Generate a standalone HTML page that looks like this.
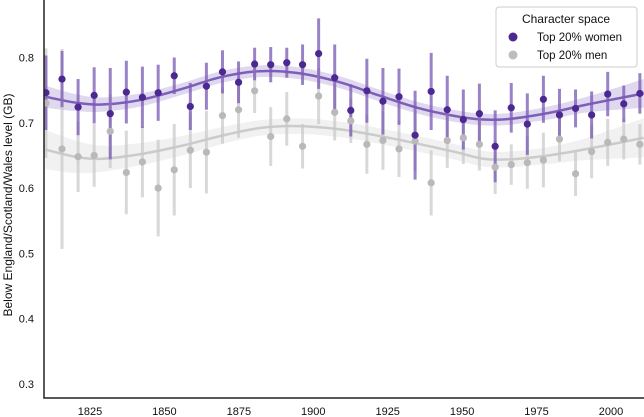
<!DOCTYPE html>
<html><head><meta charset="utf-8"><style>
html,body{margin:0;padding:0;background:#fff;width:644px;height:417px;overflow:hidden}
svg text{font-family:"Liberation Sans",Arial,sans-serif}
</style></head><body>
<svg id="chart" width="644" height="417" viewBox="0 0 644 417" xmlns="http://www.w3.org/2000/svg">
<defs><clipPath id="plotclip"><rect x="44" y="0" width="600" height="398"/></clipPath></defs>
<g id="bands" clip-path="url(#plotclip)"></g>
<g id="bars" clip-path="url(#plotclip)"></g>
<g id="dots" clip-path="url(#plotclip)"></g>
<g id="axes"></g>
<text transform="translate(12,205) rotate(-90)" text-anchor="middle" font-size="12" fill="#111">Below England/Scotland/Wales level (GB)</text>
<g>
<rect x="496" y="7" width="141" height="60" rx="3" fill="#fff" fill-opacity="0.9" stroke="#ccc"/>
<text x="566" y="23" text-anchor="middle" font-size="12" fill="#111">Character space</text>
<circle cx="513" cy="37" r="4.5" fill="#4b2990"/>
<text x="537" y="41" font-size="11.5" fill="#111">Top 20% women</text>
<circle cx="513" cy="55" r="4.5" fill="#bdbdbd"/>
<text x="537" y="59" font-size="11.5" fill="#111">Top 20% men</text>
</g>
</svg>
<script>
const years=[1810.2,1815.6,1821.0,1826.4,1831.8,1837.2,1842.6,1847.9,1853.3,1858.7,1864.1,1869.5,1874.9,1880.3,1885.7,1891.1,1896.4,1901.8,1907.2,1912.6,1918.0,1923.4,1928.8,1934.2,1939.6,1945.0,1950.4,1955.8,1961.1,1966.5,1971.9,1977.3,1982.7,1988.1,1993.5,1998.9,2004.3,2009.7];
const women=[0.746,0.767,0.724,0.742,0.714,0.747,0.739,0.746,0.772,0.725,0.756,0.778,0.762,0.790,0.789,0.792,0.789,0.806,0.769,0.719,0.749,0.733,0.740,0.681,0.748,0.720,0.705,0.714,0.664,0.723,0.698,0.736,0.712,0.722,0.712,0.744,0.729,0.745];
const womenErr=[0.057,0.043,0.043,0.043,0.07,0.048,0.047,0.043,0.028,0.036,0.036,0.033,0.032,0.025,0.027,0.023,0.031,0.054,0.051,0.040,0.049,0.051,0.043,0.068,0.059,0.052,0.046,0.046,0.055,0.038,0.047,0.036,0.040,0.029,0.036,0.034,0.028,0.031];
const men=[0.730,0.660,0.648,0.650,0.687,0.624,0.640,0.600,0.628,0.658,0.655,0.711,0.720,0.749,0.679,0.706,0.664,0.741,0.716,0.703,0.667,0.673,0.660,0.672,0.608,0.673,0.677,0.667,0.632,0.636,0.639,0.643,0.675,0.622,0.656,0.670,0.675,0.667];
const menErr=[0.084,0.153,0.054,0.048,0.056,0.064,0.054,0.074,0.070,0.058,0.063,0.043,0.043,0.034,0.045,0.041,0.034,0.043,0.043,0.034,0.045,0.045,0.043,0.046,0.050,0.042,0.040,0.040,0.041,0.031,0.040,0.042,0.034,0.034,0.041,0.036,0.031,0.031];
const smoothYears=[1810,1820,1829,1842,1856,1869,1882,1895,1909,1922,1935,1948,1957,1966,1979,1992,2011];
const womenSmooth=[0.740,0.731,0.728,0.735,0.752,0.770,0.779,0.776,0.762,0.742,0.723,0.710,0.705,0.706,0.715,0.728,0.745];
const womenBand=[0.017,0.013,0.011,0.010,0.009,0.009,0.009,0.009,0.009,0.009,0.009,0.009,0.009,0.009,0.010,0.012,0.022];
const menSmooth=[0.659,0.648,0.645,0.652,0.665,0.680,0.692,0.695,0.690,0.680,0.668,0.655,0.645,0.644,0.650,0.660,0.677];
const menBand=[0.030,0.025,0.020,0.017,0.015,0.013,0.012,0.012,0.012,0.012,0.012,0.012,0.012,0.012,0.013,0.017,0.030];
const yTicks=[0.3,0.4,0.5,0.6,0.7,0.8];
const xTicks=[1825,1850,1875,1900,1925,1950,1975,2000];

const NS="http://www.w3.org/2000/svg";
function xs(y){return 90+(y-1825)*2.977;}
function ys(v){return 384-(v-0.3)*653;}
function mk(tag,attrs,parent){const e=document.createElementNS(NS,tag);for(const k in attrs)e.setAttribute(k,attrs[k]);parent.appendChild(e);return e;}
function path(pts){let d="M"+pts[0][0]+","+pts[0][1];for(let i=0;i<pts.length-1;i++){const p0=pts[Math.max(0,i-1)],p1=pts[i],p2=pts[i+1],p3=pts[Math.min(pts.length-1,i+2)];d+=" C"+(p1[0]+(p2[0]-p0[0])/6)+","+(p1[1]+(p2[1]-p0[1])/6)+" "+(p2[0]-(p3[0]-p1[0])/6)+","+(p2[1]-(p3[1]-p1[1])/6)+" "+p2[0]+","+p2[1];}return d;}
const bands=document.getElementById('bands'),bars=document.getElementById('bars'),dots=document.getElementById('dots'),axes=document.getElementById('axes');
function series(name,vals,errs,sm,bd,dotC,barC,lineC,bandC){
  const up=smoothYears.map((y,i)=>[xs(y),ys(sm[i]+bd[i])]);
  const lo=smoothYears.map((y,i)=>[xs(y),ys(sm[i]-bd[i])]).reverse();
  const b=mk('path',{d:path(up)+" L"+path(lo).slice(1)+" Z",fill:bandC},bands);
  
  
  const l=mk('path',{d:path(smoothYears.map((y,i)=>[xs(y),ys(sm[i])])),fill:'none',stroke:lineC,'stroke-width':2.5},bands);
  
  
  years.forEach((y,i)=>{
    const e=mk('line',{x1:xs(y),x2:xs(y),y1:ys(vals[i]+errs[i]),y2:ys(vals[i]-errs[i]),stroke:barC,'stroke-width':3},bars);
    
    
    const c=mk('circle',{cx:xs(y),cy:ys(vals[i]),r:3.6,fill:dotC},dots);
    
    
  });
}
series('men',men,menErr,menSmooth,menBand,'#b9b9b9','rgba(200,200,200,0.7)','#cbcbcb','rgba(215,215,215,0.35)');
series('women',women,womenErr,womenSmooth,womenBand,'#4b2990','rgba(120,88,180,0.75)','#7c5fb9','rgba(130,100,190,0.25)');
const sp=mk('path',{d:'M44,0 L44,398 L644,398',fill:'none',stroke:'#222','stroke-width':1.5},axes);


yTicks.forEach(v=>{
  const t=mk('text',{x:34,y:ys(v)+4,'text-anchor':'end','font-size':11,fill:'#111'},axes);
  t.textContent=v.toFixed(1);
  
  
});
xTicks.forEach(v=>{
  const t=mk('text',{x:xs(v),y:415,'text-anchor':'middle','font-size':11,fill:'#111'},axes);
  t.textContent=v;
  
  
});
</script>
</body></html>
